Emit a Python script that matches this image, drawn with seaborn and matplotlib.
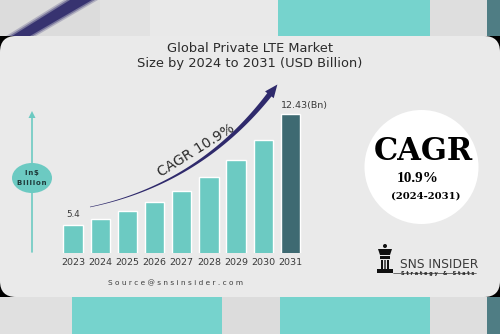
import numpy as np
import pandas as pd
import matplotlib
matplotlib.use("Agg")
import matplotlib.pyplot as plt
import seaborn as sns
from matplotlib.patches import FancyBboxPatch, Rectangle, Circle, Ellipse, Polygon

# ---- data ----
years = ["2023", "2024", "2025", "2026", "2027", "2028", "2029", "2030", "2031"]
values = [5.4, 5.80, 6.27, 6.84, 7.56, 8.45, 9.51, 10.82, 12.43]
bar_colors = ["#6ccac2"] * 8 + ["#3e6a72"]
first_label = "5.4"
last_label = "12.43(Bn)"
title_lines = ["Global Private LTE Market", "Size by 2024 to 2031 (USD Billion)"]
cagr_text = "CAGR 10.9%"
source_text = "Source@snsinsider.com"

sns.set_theme(style="white")
plt.rcParams['font.family'] = ['DejaVu Sans']

W, H = 500, 334
fig = plt.figure(figsize=(5, 3.34), dpi=100)

# background overlay in pixel coordinates
bg = fig.add_axes([0, 0, 1, 1], zorder=0)
bg.set_xlim(0, W)
bg.set_ylim(H, 0)
bg.axis("off")

def band(y0, y1, segs):
    for x0, x1, c in segs:
        bg.add_patch(Rectangle((x0, y0), x1 - x0, y1 - y0, color=c, lw=0))

band(0, 36, [(0, 100, "#dcdcdc"), (100, 150, "#e2e2e2"), (150, 278, "#e9e9e9"), (278, 430, "#76d3cd"),
             (430, 487, "#dedede"), (487, 500, "#4f7d84")])
band(297, 334, [(0, 72, "#e0e0e0"), (72, 222, "#76d3cd"), (222, 280, "#dcdcdc"),
                (280, 430, "#76d3cd"), (430, 487, "#dedede"), (487, 500, "#4f7d84")])
# blurred navy diagonal stroke top-left
for off, a in [(6, 0.25), (3, 0.45), (0, 0.95)]:
    bg.add_patch(Polygon([(12 - off, 36), (30 + off, 36), (92 + off, 0), (70 - off, 0)],
                         closed=True, color="#34306e", lw=0, alpha=a))

# black behind card, then rounded card
bg.add_patch(Rectangle((0, 36), W, 261, color="black", lw=0))
bg.add_patch(FancyBboxPatch((0, 36), W, 261, boxstyle="round,pad=0,rounding_size=16",
                            fc="#eaeaea", ec="none"))

# title
bg.text(250, 48, title_lines[0], ha="center", va="center", fontsize=9.4, color="#2b2b2b")
bg.text(250, 63, title_lines[1], ha="center", va="center", fontsize=9.4, color="#2b2b2b")

# left axis indicator
bg.plot([32, 32], [116, 252], color="#6ccac2", lw=1.2)
bg.add_patch(Polygon([(28.5, 118), (35.5, 118), (32, 111)], closed=True, color="#6ccac2", lw=0))
bg.add_patch(Ellipse((32, 178), 40, 30, color="#6ccac2", lw=0))
hs = "\u200a"
bg.text(32, 173.5, hs.join("In$"), ha="center", va="center", fontsize=5, fontweight="bold", color="#1e3a3a")
bg.text(32, 183, hs.join("Billion"), ha="center", va="center", fontsize=5, fontweight="bold", color="#1e3a3a")

# curved tapered arrow
P0 = np.array([90.0, 207.0]); P1 = np.array([200.0, 184.0]); P2 = np.array([270.0, 94.0])
t = np.linspace(0, 1, 80)[:, None]
pts = (1 - t) ** 2 * P0 + 2 * (1 - t) * t * P1 + t ** 2 * P2
d = 2 * (1 - t) * (P1 - P0) + 2 * t * (P2 - P1)
d = d / np.linalg.norm(d, axis=1, keepdims=True)
nrm = np.stack([-d[:, 1], d[:, 0]], axis=1)
wdt = (0.3 + 2.4 * t[:, 0] ** 1.4)[:, None]
poly = np.vstack([pts + nrm * wdt, (pts - nrm * wdt)[::-1]])
bg.add_patch(Polygon(poly, closed=True, color="#2f2a6c", lw=0))
dirv = d[-1]; nv = nrm[-1]
tip = P2 + dirv * 12
bg.add_patch(Polygon([tip, P2 + nv * 5.5 - dirv * 1, P2 - nv * 5.5 - dirv * 1], closed=True,
                     color="#2f2a6c", lw=0))
bg.text(196, 150, cagr_text, ha="center", va="center", rotation=32, fontsize=10, color="#2b2b2b")

# right circle
bg.add_patch(Circle((421.5, 167), 57, color="white", lw=0))
bg.text(423, 151, "CAGR", ha="center", va="center", fontsize=22, fontweight="bold",
        family="DejaVu Serif", color="black")
bg.text(418, 179, "10.9%", ha="center", va="center", fontsize=11, fontweight="bold",
        family="Liberation Serif", color="black")
bg.text(426, 196, "(2024-2031)", ha="center", va="center", fontsize=7.2, fontweight="bold",
        family="DejaVu Serif", color="black")

# logo
k = "#111111"
bg.add_patch(Circle((385, 246), 2, color=k, lw=0))
bg.add_patch(Polygon([(378, 249), (392, 249), (390, 255), (380, 255)], closed=True, color=k, lw=0))
bg.add_patch(Rectangle((380, 256), 10, 3, color=k, lw=0))
bg.add_patch(Rectangle((381, 260), 2, 9, color=k, lw=0))
bg.add_patch(Rectangle((384, 260), 2, 9, color="#555555", lw=0))
bg.add_patch(Rectangle((387, 260), 2, 9, color=k, lw=0))
bg.add_patch(Rectangle((377, 269), 16, 4, color=k, lw=0))
bg.plot([393, 476], [273, 273], color=k, lw=0.4)
bg.text(400, 264, "SNS INSIDER", ha="left", va="center", fontsize=8.8, color="#3a3a3a")
bg.text(401, 273.5, "S t r a t e g y   &   S t a t s", ha="left", va="center", fontsize=3.6,
        fontweight="bold", color="#222222")

# source
bg.text(176, 283, " ".join(source_text), ha="center", va="center", fontsize=5.3, color="#3d3d3d")

# ---- bar chart ----
ybase, ytop = 3.64, 14.0
px_per = 15.75
bottom_px = 252.7
top_px = bottom_px - (ytop - ybase) * px_per
left_px, right_px = 59.4, 304.1
ax = fig.add_axes([left_px / W, (H - bottom_px) / H, (right_px - left_px) / W, (bottom_px - top_px) / H],
                  zorder=2)
ax.patch.set_alpha(0)
df = pd.DataFrame({"year": years, "value": values})
sns.barplot(data=df, x="year", y="value", hue="year", palette=bar_colors, legend=False,
            width=0.71, saturation=1, ax=ax)
ax.set_ylim(ybase, ytop)
ax.set_xlim(-0.5, len(years) - 0.5)
for s in ax.spines.values():
    s.set_visible(False)
ax.set_yticks([])
ax.set_xlabel("")
ax.set_ylabel("")
ax.tick_params(axis="x", length=0, pad=4, labelsize=6.8, labelcolor="#3a3a3a")
ax.text(0, values[0] + 0.35, first_label, ha="center", va="bottom", fontsize=6.3, color="#3a3a3a")
ax.text(len(years) - 1 - 0.37, values[-1] + 0.3, last_label, ha="left", va="bottom", fontsize=6.8,
        color="#3a3a3a")

fig.savefig("out.png", dpi=100)
